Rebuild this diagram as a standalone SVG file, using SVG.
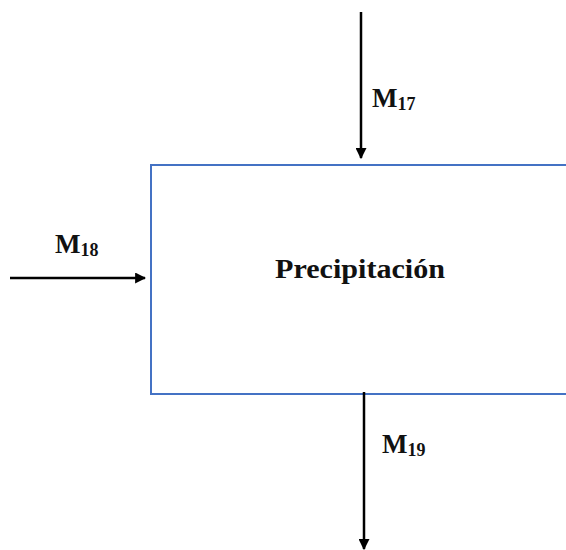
<svg xmlns="http://www.w3.org/2000/svg" width="566" height="550" viewBox="0 0 566 550">
<style>
.lbl{font-family:"Liberation Serif","Times New Roman",serif;font-weight:bold;fill:#111}
.conn{stroke:#000;stroke-width:2.5;fill:none}
</style>
<defs>
<marker id="ah" viewBox="0 0 10 10" refX="9" refY="5" markerWidth="4.4" markerHeight="4.4" orient="auto" markerUnits="strokeWidth">
<path d="M0,0 L10,5 L0,10 z" fill="#000"/>
</marker>
</defs>
<rect width="566" height="550" fill="#fff"/>
<g id="node-precipitacion">
<rect x="151" y="165" width="430" height="229" fill="#fff" stroke="#4472C4" stroke-width="2"/>
<text class="lbl" x="275" y="278" font-size="27" textLength="170" lengthAdjust="spacingAndGlyphs">Precipitación</text>
</g>
<g id="connectors">
<line class="conn" x1="361" y1="12" x2="361" y2="158" marker-end="url(#ah)"/>
<line class="conn" x1="10" y1="278" x2="145" y2="278" marker-end="url(#ah)"/>
<line class="conn" x1="364" y1="392" x2="364" y2="549" marker-end="url(#ah)"/>
</g>
<g id="label-m17">
<text class="lbl" x="372" y="107" font-size="27">M<tspan font-size="18" dy="3">17</tspan></text>
</g>
<g id="label-m18">
<text class="lbl" x="55" y="253" font-size="27">M<tspan font-size="18" dy="3">18</tspan></text>
</g>
<g id="label-m19">
<text class="lbl" x="382" y="453" font-size="27">M<tspan font-size="18" dy="3">19</tspan></text>
</g>
</svg>
